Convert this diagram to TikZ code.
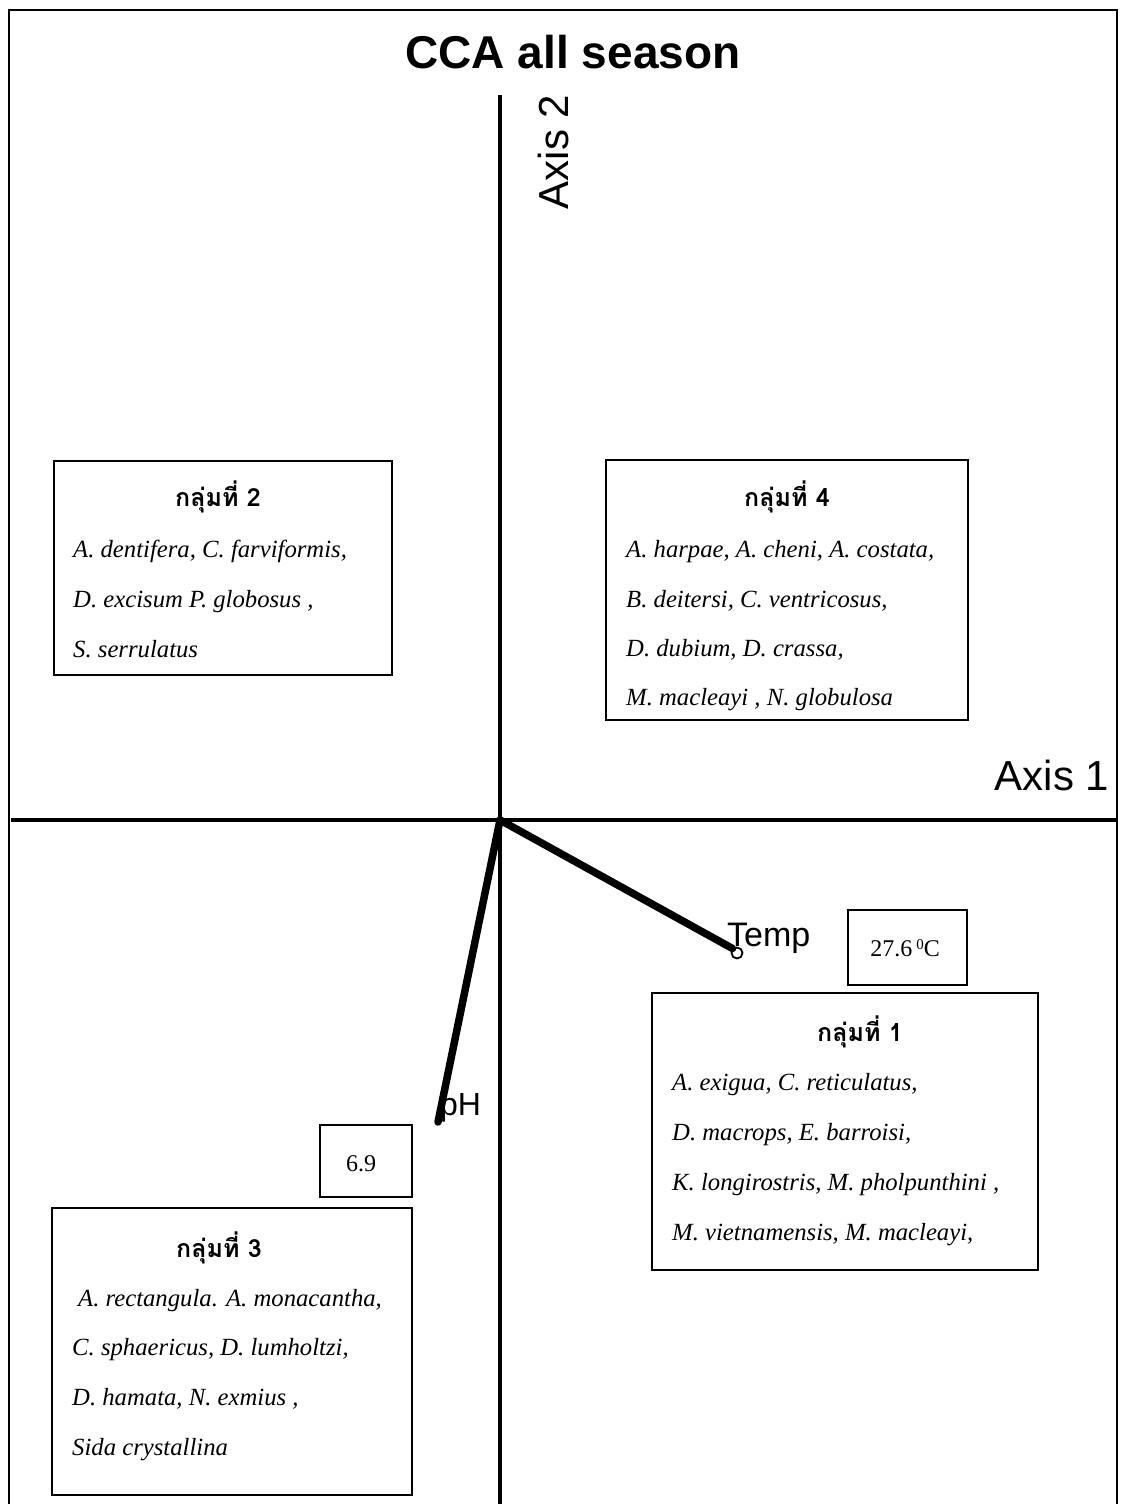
\documentclass[tikz,border=0pt]{standalone}
\usepackage{fontspec}
\setmainfont{Liberation Serif}
\newfontfamily\arialf{Liberation Sans}
\newfontfamily\thaifont[Script=Thai]{Loma}
\begin{document}
\begin{tikzpicture}[x=1pt,y=-1pt,
  gbox/.style={draw,line width=2pt,inner sep=0pt},
  sp/.style={anchor=base west,font=\fontsize{24.7}{28}\selectfont\itshape,inner sep=0pt},
  gtitle/.style={anchor=base,font=\fontsize{25}{29}\selectfont\thaifont\bfseries,inner sep=0pt},
  val/.style={anchor=base,font=\fontsize{24}{27}\selectfont,inner sep=0pt},
  axlab/.style={font=\fontsize{42}{48}\selectfont\arialf,inner sep=0pt},
  axisline/.style={line width=3.4pt},
  vec/.style={line width=7.5pt,line cap=round}]
\useasboundingbox[fill=white] (0,0) rectangle (1124,1504);
% frame
\draw[line width=2pt] (9,1504) -- (9,10) -- (1117,10) -- (1117,1504);
% title
\node[anchor=base,font=\fontsize{46}{52}\selectfont\arialf\bfseries,inner sep=0pt] (title) at (573,68) {CCA all season};
% axes
\coordinate (o) at (500,820);
\coordinate (a2t) at (500,95);
\coordinate (a2b) at (500,1504);
\coordinate (a1l) at (11,820);
\coordinate (a1r) at (1117,820);
\draw[axisline] (a2t) -- (a2b);
\draw[axisline] (a1l) -- (a1r);
\node[axlab,rotate=90,anchor=center] (ax2) at (553,152) {Axis 2};
\node[axlab,anchor=base] (ax1) at (1052,790) {Axis 1};
% vectors
\node[draw,circle,line width=1.8pt,minimum size=11pt,inner sep=0pt,fill=white] (tc) at (737,953) {};
\coordinate (phend) at (438,1122);
\draw[vec] (o) -- (tc.north west);
\draw[vec] (o) -- (phend);
\node[anchor=base west,font=\fontsize{34}{38}\selectfont\arialf,inner sep=0pt] (temp) at (727,946) {Temp};
\node[anchor=base west,font=\fontsize{32}{36}\selectfont\arialf,inner sep=0pt] (ph) at (440,1115) {pH};
% value boxes
\node[gbox,minimum width=119pt,minimum height=75pt] (tbox) at (907.5,947.5) {};
\node[val] (tval) at (905,956) {27.6\,\raisebox{0.6ex}{\fontsize{15}{17}\selectfont 0}C};
\node[gbox,minimum width=92pt,minimum height=72pt] (pbox) at (366,1161) {};
\node[val] (pval) at (361,1171) {6.9};
% group 2
\node[gbox,minimum width=338pt,minimum height=214pt] (g2) at (223,568) {};
\node[gtitle] (g2t) at (218,506) {กลุ่มที่ 2};
\node[sp] (g2a) at (73,557) {A. dentifera, C. farviformis,};
\node[sp] (g2b) at (73,607) {D. excisum P. globosus ,};
\node[sp] (g2c) at (73,657) {S. serrulatus};
% group 4
\node[gbox,minimum width=362pt,minimum height=260pt] (g4) at (787,590) {};
\node[gtitle] (g4t) at (787,506) {กลุ่มที่ 4};
\node[sp] (g4a) at (626,557) {A. harpae, A. cheni, A. costata,};
\node[sp] (g4b) at (626,607) {B. deitersi, C. ventricosus,};
\node[sp] (g4c) at (626,656) {D. dubium, D. crassa,};
\node[sp] (g4d) at (626,705) {M. macleayi , N. globulosa};
% group 1
\node[gbox,minimum width=386pt,minimum height=277pt] (g1) at (845,1131.5) {};
\node[gtitle] (g1t) at (860,1041) {กลุ่มที่ 1};
\node[sp] (g1a) at (672,1090) {A. exigua, C. reticulatus,};
\node[sp] (g1b) at (672,1140) {D. macrops, E. barroisi,};
\node[sp] (g1c) at (672,1190) {K. longirostris, M. pholpunthini ,};
\node[sp] (g1d) at (672,1240) {M. vietnamensis, M. macleayi,};
% group 3
\node[gbox,minimum width=360pt,minimum height=287pt] (g3) at (232,1351.5) {};
\node[gtitle] (g3t) at (219,1257) {กลุ่มที่ 3};
\node[sp] (g3a) at (78,1306) {A. rectangula. A. monacantha,};
\node[sp] (g3b) at (72,1355) {C. sphaericus, D. lumholtzi,};
\node[sp] (g3c) at (72,1405) {D. hamata, N. exmius ,};
\node[sp] (g3d) at (72,1455) {Sida crystallina};
\end{tikzpicture}
\end{document}
